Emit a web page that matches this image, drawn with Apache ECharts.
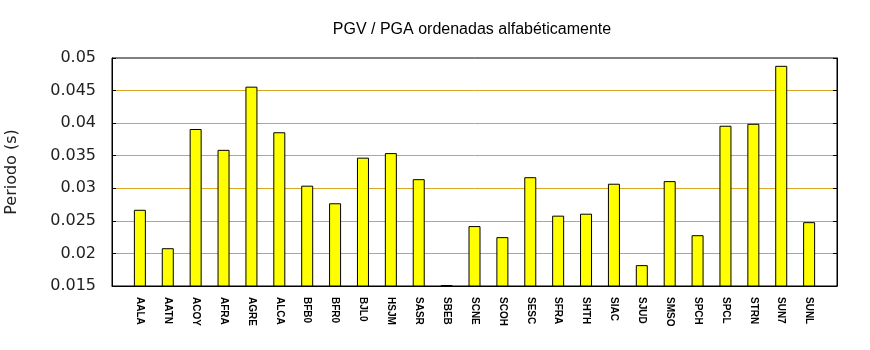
<!DOCTYPE html>
<html>
<head>
<meta charset="utf-8">
<script src="https://cdn.jsdelivr.net/npm/echarts@6/dist/echarts.min.js"></script>
<style>html,body{margin:0;padding:0;background:#fff}#c{width:870px;height:350px}</style>
</head>
<body>
<div id="c"></div>
<script>
var stations = ["AALA","AATN","ACOY","AFRA","AGRE","ALCA","BFB0","BFR0","BJL0","HSJM","SASR","SBEB","SCNE","SCOH","SESC","SFRA","SHTH","SIAC","SJUD","SMSO","SPCH","SPCL","STRN","SUN7","SUNL"];
var periods = [0.0267,0.0208,0.0391,0.0359,0.0456,0.0386,0.0304,0.0277,0.0347,0.0354,0.0314,0.01515,0.0242,0.0225,0.0317,0.0258,0.0261,0.0307,0.0182,0.0311,0.0228,0.0396,0.0399,0.0488,0.0248];
var yTicks = [0.015,0.02,0.025,0.03,0.035,0.04,0.045,0.05];

var chart = echarts.init(document.getElementById('c'), null, {renderer:'canvas'});
var yMin = yTicks[0], yMax = yTicks[yTicks.length-1], yStep = yTicks[1]-yTicks[0];
chart.setOption({
  animation:false,
  backgroundColor:'#ffffff',
  title:{
    text:'PGV / PGA ordenadas alfabéticamente',
    left:467, top:17, textAlign:'center',
    textStyle:{fontFamily:'Liberation Sans',fontSize:16,fontWeight:'normal',color:'#000'}
  },
  grid:{left:112,top:58,right:33,bottom:64,containLabel:false,outerBoundsMode:'none',
    show:true,borderColor:'#000',borderWidth:1,backgroundColor:'transparent'},
  xAxis:{
    type:'value', min:-1, max:stations.length, interval:1,
    axisLine:{show:true,onZero:false,lineStyle:{color:'#000',width:1}},
    axisTick:{show:false},
    splitLine:{show:false},
    axisLabel:{
      rotate:-90, margin:11, interval:0,
      fontFamily:'Liberation Sans', fontSize:10, fontWeight:'bold', color:'#000',
      formatter:function(v){ return stations[v] || ''; }
    }
  },
  yAxis:[{
    type:'value', min:yMin, max:yMax, interval:yStep,
    name:'Periodo (s)', nameLocation:'middle', nameGap:92,
    nameTextStyle:{fontFamily:'DejaVu Sans',fontSize:16,color:'#222'},
    axisLine:{show:true,onZero:false,lineStyle:{color:'#000',width:1}},
    axisTick:{show:true,inside:true,length:4,lineStyle:{color:'#000'}},
    splitLine:{show:true,showMinLine:false,showMaxLine:false,lineStyle:{color:'#daa520',width:1}},
    axisLabel:{margin:16,fontFamily:'DejaVu Sans',fontSize:16,color:'#222',
      formatter:function(v){return String(Math.round(v*1000)/1000);}}
  },{
    type:'value', min:yMin, max:yMax, interval:yStep, position:'right',
    axisLine:{show:true,onZero:false,lineStyle:{color:'#000',width:1}},
    axisTick:{show:true,inside:true,length:4,lineStyle:{color:'#000'}},
    splitLine:{show:false},
    axisLabel:{show:false}
  }],
  series:[{
    type:'bar',
    barWidth:12,
    data:periods.map(function(v,i){return [i,v];}),
    itemStyle:{color:'#ffff00',borderColor:'#000',borderWidth:1}
  }]
});
</script>
</body>
</html>
